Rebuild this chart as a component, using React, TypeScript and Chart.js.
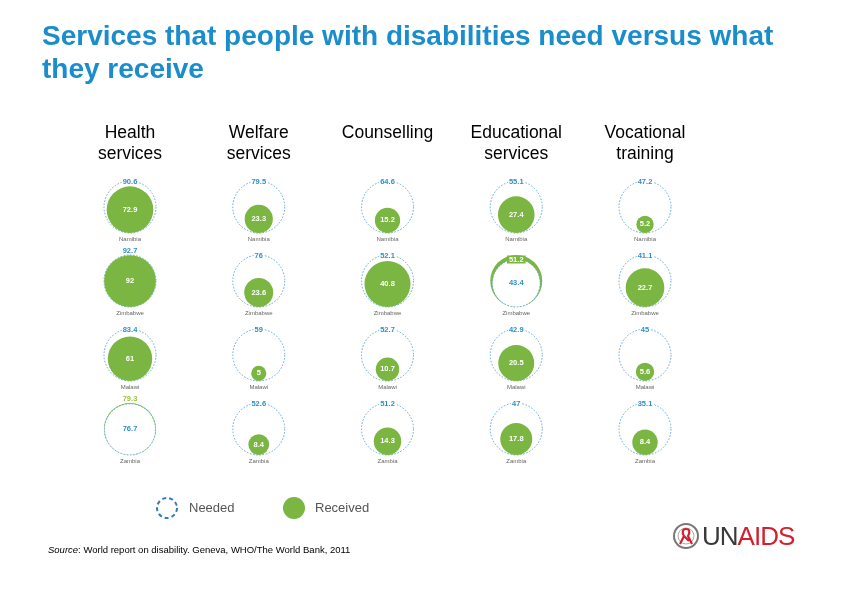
import React, { useEffect, useRef } from "react";
import { Chart, registerables } from "chart.js";
Chart.register(...registerables);

const services = ["Health services", "Welfare services", "Counselling", "Educational services", "Vocational training"];
const headerLines = [["Health", "services"], ["Welfare", "services"], ["Counselling"], ["Educational", "services"], ["Vocational", "training"]];
const countries = ["Namibia", "Zimbabwe", "Malawi", "Zambia"];

// values per service, in country order: Namibia, Zimbabwe, Malawi, Zambia
const neededHealth = [90.6, 92.7, 83.4, 76.7];
const neededWelfare = [79.5, 76, 59, 52.6];
const neededCounselling = [64.6, 52.1, 52.7, 51.2];
const neededEducational = [55.1, 43.4, 42.9, 47];
const neededVocational = [47.2, 41.1, 45, 35.1];

const receivedHealth = [72.9, 92, 61, 79.3];
const receivedWelfare = [23.3, 23.6, 5, 8.4];
const receivedCounselling = [15.2, 40.8, 10.7, 14.3];
const receivedEducational = [27.4, 51.2, 20.5, 17.8];
const receivedVocational = [5.2, 22.7, 5.6, 8.4];

const needed = [neededHealth, neededWelfare, neededCounselling, neededEducational, neededVocational];
const received = [receivedHealth, receivedWelfare, receivedCounselling, receivedEducational, receivedVocational];

const R = 26;
const GREEN = "#7ab641";
const BLUE = "#2f8fc6";
const DASH_BLUE = "#5fa9d8";
const FONT = '"Liberation Sans", Arial, sans-serif';

function rad(v: number, n: number, r: number) {
  return R * Math.sqrt(v / Math.max(n, r));
}

function buildPoints(which: "front" | "needed" | "back") {
  const pts: { x: number; y: number; r: number }[] = [];
  services.forEach((_, s) => {
    countries.forEach((__, c) => {
      const n = needed[s][c];
      const rv = received[s][c];
      let r = 0;
      if (which === "needed") r = rad(n, n, rv);
      else if (which === "front") r = rv <= n ? rad(rv, n, rv) : 0;
      else r = rv > n ? rad(rv, n, rv) : 0;
      pts.push({ x: s, y: c, r });
    });
  });
  return pts;
}

const cellPlugin = {
  id: "cells",
  afterDatasetsUpdate(chart: any) {
    const ys = chart.scales.y;
    chart.data.datasets.forEach((ds: any, di: number) => {
      const meta = chart.getDatasetMeta(di);
      meta.data.forEach((el: any, i: number) => {
        const p = ds.data[i];
        el.y = ys.getPixelForValue(p.y) - p.r;
      });
    });
  },
  beforeDatasetDraw(chart: any, args: any) {
    if (args.index === 1) {
      chart.ctx.save();
      chart.ctx.setLineDash([1.6, 1.6]);
    }
  },
  afterDatasetDraw(chart: any, args: any) {
    if (args.index === 1) chart.ctx.restore();
  },
  afterDatasetsDraw(chart: any) {
    const ctx = chart.ctx;
    const xs = chart.scales.x;
    const ys = chart.scales.y;
    ctx.save();
    ctx.textAlign = "center";
    ctx.textBaseline = "middle";
    services.forEach((_, s) => {
      countries.forEach((country, c) => {
        const n = needed[s][c];
        const rv = received[s][c];
        const cx = xs.getPixelForValue(s);
        const base = ys.getPixelForValue(c);
        const rn = rad(n, n, rv);
        const rr = rad(rv, n, rv);
        const top = base - 2 * Math.max(rn, rr);
        ctx.font = `bold 7.5px ${FONT}`;
        if (n >= rv) {
          const t = String(n);
          const w = ctx.measureText(t).width;
          if (rr < rn - 1.5) {
            ctx.fillStyle = "#ffffff";
            ctx.fillRect(cx - w / 2 - 1, top - 4, w + 2, 8);
            ctx.fillStyle = BLUE;
            ctx.fillText(t, cx, top + 0.5);
          } else {
            ctx.fillStyle = BLUE;
            ctx.fillText(t, cx, top - 4);
          }
          ctx.fillStyle = "#ffffff";
          ctx.fillText(String(rv), cx, base - rr);
        } else {
          const t = String(rv);
          const w = ctx.measureText(t).width;
          const ring = rr - rn;
          if (ring > 1.5) {
            ctx.fillStyle = GREEN;
            ctx.fillRect(cx - w / 2 - 2, top + 0.5, w + 4, 8);
            ctx.fillStyle = "#ffffff";
            ctx.fillText(t, cx, top + 4.5);
          } else {
            ctx.fillStyle = "#9cc23c";
            ctx.fillText(t, cx, top - 4);
          }
          ctx.fillStyle = BLUE;
          ctx.fillText(String(n), cx, base - rn);
        }
        ctx.font = `6px ${FONT}`;
        ctx.fillStyle = "#666666";
        ctx.fillText(country, cx, base + 6);
      });
    });
    ctx.restore();
  },
};

export default function App() {
  const ref = useRef<HTMLCanvasElement | null>(null);
  useEffect(() => {
    if (!ref.current) return;
    const chart = new Chart(ref.current, {
      type: "bubble",
      data: {
        datasets: [
          {
            label: "Received",
            data: buildPoints("front"),
            backgroundColor: GREEN,
            borderWidth: 0,
            clip: false as any,
          },
          {
            label: "Needed",
            data: buildPoints("needed"),
            backgroundColor: "#ffffff",
            borderColor: DASH_BLUE,
            borderWidth: 1,
            clip: false as any,
          },
          {
            label: "Received (exceeds need)",
            data: buildPoints("back"),
            backgroundColor: GREEN,
            borderWidth: 0,
            clip: false as any,
          },
        ],
      },
      options: {
        animation: false,
        responsive: false,
        events: [],
        layout: { padding: { left: 65.625, right: 132.625, top: 196, bottom: 103 } },
        scales: {
          x: { type: "linear", min: -0.5, max: 4.5, display: false },
          y: { type: "linear", min: -0.5, max: 3.5, reverse: true, display: false },
        },
        plugins: { legend: { display: false }, tooltip: { enabled: false }, title: { display: false } },
      },
      plugins: [cellPlugin],
    });
    return () => chart.destroy();
  }, []);

  const colX = (i: number) => 130 + 128.75 * i;

  return (
    <div style={{ position: "absolute", left: 0, top: 0, width: 842, height: 595, background: "#fff", fontFamily: FONT, overflow: "hidden" }}>
      <canvas ref={ref} width={842} height={595} style={{ position: "absolute", left: 0, top: 0, width: 842, height: 595 }} />
      <div style={{ position: "absolute", left: 42, top: 19, width: 790, color: "#1b8dcc", fontWeight: "bold", fontSize: 28, lineHeight: "33px", whiteSpace: "nowrap" }}>
        Services that people with disabilities need versus what
        <br />
        they receive
      </div>
      {headerLines.map((lines, i) => (
        <div key={i} style={{ position: "absolute", left: colX(i) - 75, top: 121.5, width: 150, textAlign: "center", fontSize: 17.5, lineHeight: "21px", color: "#000" }}>
          {lines.map((l, j) => (
            <div key={j}>{l}</div>
          ))}
        </div>
      ))}
      <svg width={842} height={595} style={{ position: "absolute", left: 0, top: 0, pointerEvents: "none" }}>
        <circle cx={167} cy={508} r={10} fill="none" stroke="#2e7fae" strokeWidth={2} strokeDasharray="4 3" />
        <circle cx={294} cy={508} r={11} fill={GREEN} />
        <circle cx={686} cy={536} r={12} fill="none" stroke="#777" strokeWidth={2} />
        <circle cx={686} cy={536} r={8} fill="none" stroke="#aaa" strokeWidth={1} />
        <path d="M686 529 C682 529 682 533 684 536 L680 544 M686 529 C690 529 690 533 688 536 L692 544 M684 536 L689 541" fill="none" stroke="#d2202f" strokeWidth={2.2} />
      </svg>
      <div style={{ position: "absolute", left: 189, top: 500, fontSize: 13, lineHeight: "16px", color: "#555" }}>Needed</div>
      <div style={{ position: "absolute", left: 315, top: 500, fontSize: 13, lineHeight: "16px", color: "#555" }}>Received</div>
      <div style={{ position: "absolute", left: 48, top: 544, fontSize: 9.5, lineHeight: "12px", color: "#000", whiteSpace: "nowrap" }}>
        <i>Source</i>: World report on disability. Geneva, WHO/The World Bank, 2011
      </div>
      <div style={{ position: "absolute", left: 702, top: 521, fontSize: 26, lineHeight: "30px", letterSpacing: -1, whiteSpace: "nowrap" }}>
        <span style={{ color: "#3a3a3a" }}>UN</span>
        <span style={{ color: "#d2202f" }}>AIDS</span>
      </div>
    </div>
  );
}
